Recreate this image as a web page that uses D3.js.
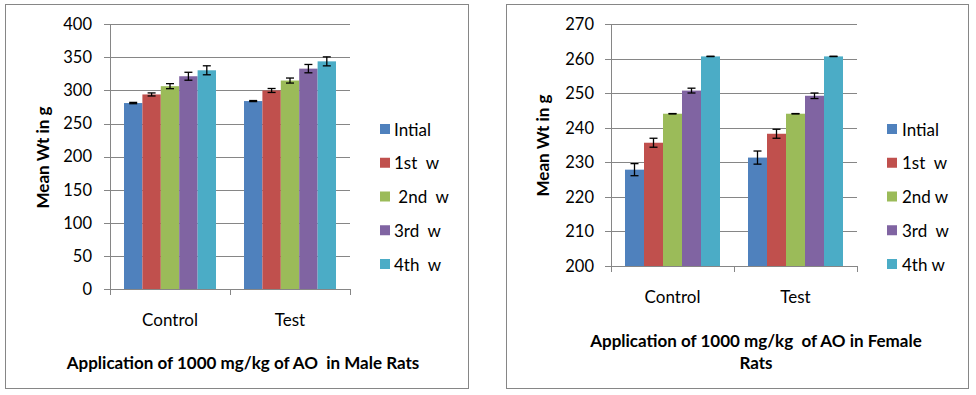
<!DOCTYPE html>
<html><head><meta charset="utf-8">
<script src="https://cdn.jsdelivr.net/npm/d3@7"></script>
<style>
body{margin:0;background:#fff;}
svg{display:block;font-family:Lato,"Open Sans",sans-serif;}
text{white-space:pre;}
</style></head><body>
<svg id="c" width="976" height="395"></svg>
<script>
const categories = ["Control", "Test"];
const maleSeries = ["Intial", "1st  w", " 2nd  w", "3rd  w", "4th  w"];
const femaleSeries = ["Intial", "1st  w", "2nd w", "3rd  w", "4th w"];
const colors = ["#4F81BD", "#C0504D", "#9BBB59", "#8064A2", "#4BACC6"];
// values per category, one entry per series
const maleControl = [281, 294, 306.5, 321.5, 330.5];
const maleTest = [284, 300, 315, 333, 344];
const maleControlErr = [1, 2.3, 3.8, 6, 6.8];
const maleTestErr = [0.8, 3, 3.8, 6.3, 6.8];
const femaleControl = [227.9, 235.7, 244.1, 250.8, 260.7];
const femaleTest = [231.4, 238.3, 244.1, 249.3, 260.7];
const femaleControlErr = [1.75, 1.3, 0.05, 0.7, 0.05];
const femaleTestErr = [1.9, 1.3, 0.05, 0.8, 0.05];
const maleTicks = [0, 50, 100, 150, 200, 250, 300, 350, 400];
const femaleTicks = [200, 210, 220, 230, 240, 250, 260, 270];

const svg = d3.select("#c");
const gray = "#868686";

function chart(o) {
  const g = svg.append("g");
  g.append("rect").attr("x", o.box[0]).attr("y", o.box[1]).attr("width", o.box[2]).attr("height", o.box[3])
    .attr("fill", "#fff").attr("stroke", gray).attr("stroke-width", 1);
  const y = d3.scaleLinear().domain(o.domain).range([o.bottom, o.top]);
  const x0 = d3.scaleBand().domain(categories).range([o.left, o.right]);
  const x1 = d3.scaleBand().domain(d3.range(o.series.length)).range([o.inner[0], o.inner[1]]);
  // gridlines
  g.selectAll("line.grid").data(o.ticks).join("line")
    .attr("x1", o.left - 6).attr("x2", o.right)
    .attr("y1", d => Math.round(y(d)) + 0.5).attr("y2", d => Math.round(y(d)) + 0.5)
    .attr("stroke", gray).attr("stroke-width", 1);
  // axis labels
  const ya = d3.axisLeft(y).tickValues(o.ticks).tickSize(0).tickPadding(o.pad);
  const ag = g.append("g").attr("transform", `translate(${o.left},0)`).call(ya);
  ag.select(".domain").remove();
  ag.selectAll("text").attr("font-size", 16.5).attr("fill", "#000").attr("font-family", "Lato,sans-serif");
  // vertical axis line
  g.append("line").attr("x1", o.left + 0.5).attr("x2", o.left + 0.5).attr("y1", o.top).attr("y2", o.bottom + 6)
    .attr("stroke", gray);
  // category ticks
  const bounds = [o.left, o.left + x0.step(), o.right];
  g.selectAll("line.ct").data(bounds).join("line")
    .attr("x1", d => Math.round(d) + 0.5).attr("x2", d => Math.round(d) + 0.5)
    .attr("y1", o.bottom).attr("y2", o.bottom + 6).attr("stroke", gray);
  // bars
  const data = [];
  categories.forEach((c, ci) => {
    o.values[ci].forEach((v, si) => data.push({c, si, v, e: o.errs[ci][si]}));
  });
  g.selectAll("rect.bar").data(data).join("rect")
    .attr("x", d => x0(d.c) + x1(d.si)).attr("width", x1.bandwidth())
    .attr("y", d => y(d.v)).attr("height", d => y(o.domain[0]) - y(d.v))
    .attr("fill", d => colors[d.si]);
  // error bars
  const eb = g.selectAll("g.eb").data(data).join("g")
    .attr("transform", d => `translate(${x0(d.c) + x1(d.si) + x1.bandwidth() / 2},0)`);
  eb.append("line").attr("x1", 0).attr("x2", 0).attr("y1", d => y(d.v + d.e)).attr("y2", d => y(d.v - d.e))
    .attr("stroke", "#000").attr("stroke-width", 1.3);
  eb.append("line").attr("x1", -4).attr("x2", 4).attr("y1", d => y(d.v + d.e)).attr("y2", d => y(d.v + d.e))
    .attr("stroke", "#000").attr("stroke-width", 1.3);
  eb.append("line").attr("x1", -4).attr("x2", 4).attr("y1", d => y(d.v - d.e)).attr("y2", d => y(d.v - d.e))
    .attr("stroke", "#000").attr("stroke-width", 1.3);
  // category labels
  g.selectAll("text.cat").data(categories).join("text")
    .attr("x", d => x0(d) + x0.bandwidth() / 2 + o.catDx).attr("y", o.catY)
    .attr("text-anchor", "middle").attr("dominant-baseline", "central")
    .attr("font-size", 17).text(d => d);
  // y title
  g.append("text").attr("transform", `translate(${o.yTitle[0]},${o.yTitle[1]}) rotate(-90)`)
    .attr("text-anchor", "middle").attr("dominant-baseline", "central")
    .attr("font-size", 17).attr("font-weight", "bold").text("Mean Wt in g");
  // x title
  o.xTitle.forEach((t, i) => {
    g.append("text").attr("x", o.xTitleX).attr("y", o.xTitleY + i * 22)
      .attr("text-anchor", "middle").attr("dominant-baseline", "central")
      .attr("font-size", 17).attr("font-weight", "bold").text(t);
  });
  // legend
  const lg = g.selectAll("g.lg").data(o.series).join("g")
    .attr("transform", (d, i) => `translate(${o.legX},${129 + i * 33.75})`);
  lg.append("rect").attr("x", 0).attr("y", -5).attr("width", 10).attr("height", 10).attr("fill", (d, i) => colors[i]);
  lg.append("text").attr("x", o.legTx).attr("y", 0).attr("dominant-baseline", "central")
    .attr("font-size", 17).text(d => d);
}

chart({
  box: [5.5, 4.5, 463, 384], domain: [0, 400], ticks: maleTicks, top: 24.3, bottom: 289, pad: 18,
  left: 110, right: 350, inner: [14, 106], series: maleSeries,
  values: [maleControl, maleTest], errs: [maleControlErr, maleTestErr],
  catY: 319, catDx: 0, yTitle: [42, 157.5], xTitle: ["Application of 1000 mg/kg of AO  in Male Rats"],
  xTitleX: 243, xTitleY: 362, legX: 380, legTx: 14
});
chart({
  box: [506.5, 4.5, 462, 384], domain: [200, 270], ticks: femaleTicks, top: 24.3, bottom: 266, pad: 17,
  left: 611, right: 857, inner: [14, 109], series: femaleSeries,
  values: [femaleControl, femaleTest], errs: [femaleControlErr, femaleTestErr],
  catY: 296, catDx: 0, yTitle: [542, 145.5], xTitle: ["Application of 1000 mg/kg  of AO in Female", "Rats"],
  xTitleX: 756, xTitleY: 340, legX: 887, legTx: 15
});
</script>
</body></html>
